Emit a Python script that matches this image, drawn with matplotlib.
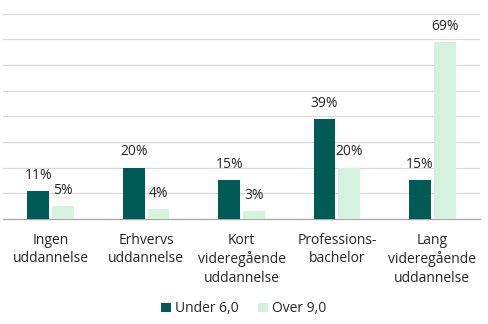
import matplotlib.pyplot as plt
import numpy as np

plt.rcParams['font.family'] = ['Open Sans', 'DejaVu Sans']

categories = ['Ingen\nuddannelse', 'Erhvervs\nuddannelse', 'Kort\nvideregående\nuddannelse',
              'Professions-\nbachelor', 'Lang\nvideregående\nuddannelse']
under_6 = [11, 20, 15, 39, 15]
over_9 = [5, 4, 3, 20, 69]
series_names = ['Under 6,0', 'Over 9,0']

dark = '#005A55'
light = '#D5F2DF'

fig = plt.figure(figsize=(4.88, 3.24), dpi=100)
ax = fig.add_axes([3/488, 105/324, 477/488, 205.5/324])

x = np.arange(len(categories))
w = 0.23
gap = 0.015
b1 = ax.bar(x - w/2 - gap, under_6, w, color=dark, label=series_names[0], zorder=3)
b2 = ax.bar(x + w/2 + gap, over_9, w, color=light, label=series_names[1], zorder=3)

for bars, vals in ((b1, under_6), (b2, over_9)):
    for r, v in zip(bars, vals):
        ax.text(r.get_x() + r.get_width()/2, v + 3.2, f'{v}%', ha='center', va='bottom',
                fontsize=10, color='#262626')

ax.set_xlim(-0.5, len(categories) - 0.5)
ax.set_ylim(0, 80)
ax.set_yticks(np.arange(0, 81, 10))
ax.yaxis.grid(True, color='#D9D9D9', linewidth=0.9, zorder=0)
ax.tick_params(axis='y', length=0, labelleft=False)
ax.tick_params(axis='x', length=0, pad=10)
ax.set_xticks(x)
ax.set_xticklabels(categories, fontsize=10, color='#262626', linespacing=1.3, va='top')
for s in ['top', 'right', 'left']:
    ax.spines[s].set_visible(False)
ax.spines['bottom'].set_color('#A6A6A6')
ax.spines['bottom'].set_linewidth(0.9)

fig.legend(loc='lower center', bbox_to_anchor=(0.5, -0.015), ncol=2, frameon=False,
           fontsize=10, handlelength=0.7, handleheight=0.7, handletextpad=0.3,
           columnspacing=1.4, labelcolor='#262626')

fig.savefig('out.png', dpi=100)
